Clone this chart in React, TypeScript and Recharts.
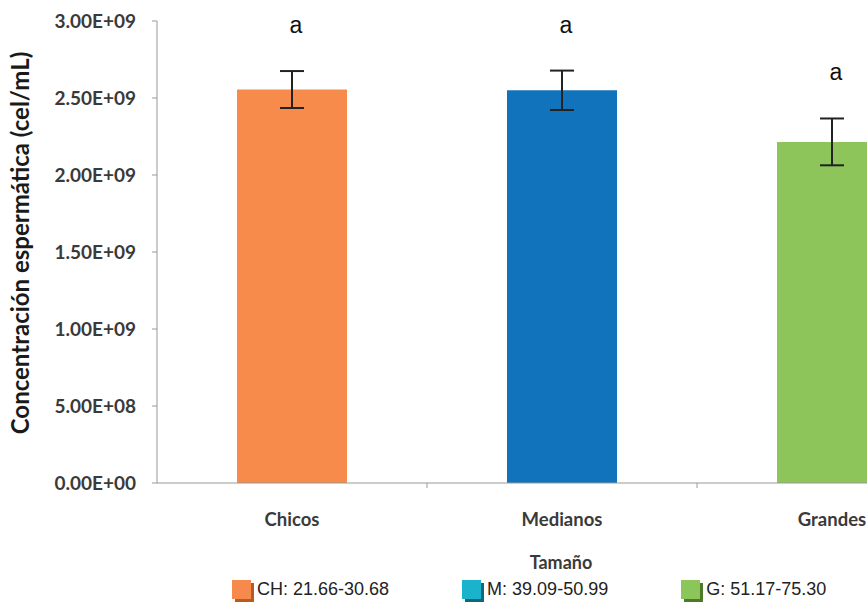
import { BarChart, Bar, XAxis, YAxis, ErrorBar, Cell, LabelList } from 'recharts';

const categories = ['Chicos', 'Medianos', 'Grandes'];
const means = [2.555e9, 2.55e9, 2.215e9];
const errors = [1.2e8, 1.28e8, 1.52e8];
const letters = ['a', 'a', 'a'];
const yTicks = [0, 5e8, 1e9, 1.5e9, 2e9, 2.5e9, 3e9];
const legendLabels = ['CH: 21.66-30.68', 'M: 39.09-50.99', 'G: 51.17-75.30'];

const barColors = ['#F68B4B', '#1173BC', '#8DC55B'];
const legendColors = ['#F58A4C', '#1AB3CB', '#8CC65A'];
const legendShadows = ['#B85A22', '#0E6A78', '#4D7A2A'];

const data = categories.map((cat, i) => ({
  cat,
  value: means[i],
  err: errors[i],
  letter: letters[i],
}));

const AXIS_FONT = 'Lato, "DejaVu Sans", sans-serif';

function sci(v: number) {
  if (v === 0) return '0.00E+00';
  const exp = Math.floor(Math.log10(v));
  const mant = v / Math.pow(10, exp);
  return `${mant.toFixed(2)}E+${String(exp).padStart(2, '0')}`;
}

function XTick(props: any) {
  const { x, y, payload } = props;
  const half = payload?.offset || 135;
  return (
    <g>
      <line x1={x + half} y1={y} x2={x + half} y2={y + 5} stroke="#999" />
      <text
        x={x}
        y={y + 43}
        textAnchor="middle"
        fill="#3a3a3a"
        fontSize={18.5}
        fontWeight="bold"
        fontFamily={AXIS_FONT}
      >
        {payload.value}
      </text>
    </g>
  );
}

function LetterLabel(props: any) {
  const { x, y, width, height, value, index } = props;
  const pxPerUnit = height / means[index];
  const errPx = errors[index] * pxPerUnit;
  return (
    <text
      x={x + width / 2 + 4}
      y={y - errPx - 38}
      textAnchor="middle"
      fill="#111"
      fontSize={23}
      fontFamily='"Liberation Sans", Arial, sans-serif'
    >
      {value}
    </text>
  );
}

export default function App() {
  return (
    <div
      style={{
        position: 'absolute',
        left: 0,
        top: 0,
        width: 867,
        height: 603,
        overflow: 'hidden',
        background: '#fff',
      }}
    >
      <BarChart
        width={1000}
        height={603}
        data={data}
        margin={{ top: 21, right: 33, left: 0, bottom: 0 }}
      >
        <XAxis
          dataKey="cat"
          height={120}
          axisLine={{ stroke: '#999' }}
          tickLine={false}
          tickSize={0}
          tickMargin={0}
          tick={<XTick />}
          interval={0}
          label={() => (
            <text
              x={561}
              y={569}
              textAnchor="middle"
              fill="#3a3a3a"
              fontSize={18}
              fontWeight="bold"
              fontFamily={AXIS_FONT}
            >
              Tamaño
            </text>
          )}
        />
        <YAxis
          width={157}
          domain={[0, 3e9]}
          ticks={yTicks}
          tickFormatter={sci}
          axisLine={{ stroke: '#999' }}
          tickLine={{ stroke: '#999' }}
          tickSize={5}
          tickMargin={16}
          tick={{ fill: '#3a3a3a', fontSize: 19, fontWeight: 'bold', fontFamily: AXIS_FONT }}
          label={() => (
            <text
              x={29}
              y={243}
              transform="rotate(-90 29 243)"
              textAnchor="middle"
              fill="#1a1a1a"
              fontSize={24}
              fontWeight="bold"
              fontFamily={AXIS_FONT}
            >
              Concentración espermática (cel/mL)
            </text>
          )}
        />
        <Bar dataKey="value" barSize={110} isAnimationActive={false}>
          {data.map((d, i) => (
            <Cell key={d.cat} fill={barColors[i]} />
          ))}
          <ErrorBar dataKey="err" width={12} stroke="#222" strokeWidth={2} />
          <LabelList dataKey="letter" content={<LetterLabel />} />
        </Bar>
      </BarChart>
      <div
        style={{
          position: 'absolute',
          left: 232,
          top: 574,
          width: 635,
          height: 29,
          background: '#fff',
          display: 'flex',
          alignItems: 'center',
          gap: 73,
          fontFamily: '"Liberation Sans", Arial, sans-serif',
          fontSize: 18,
          color: '#222',
        }}
      >
        {legendLabels.map((lab, i) => (
          <div key={lab} style={{ display: 'flex', alignItems: 'center', marginTop: 2 }}>
            <span
              style={{
                display: 'inline-block',
                width: 19,
                height: 19,
                background: legendColors[i],
                boxShadow: `3px 3px 0 ${legendShadows[i]}`,
                marginRight: 6,
              }}
            />
            {lab}
          </div>
        ))}
      </div>
    </div>
  );
}
